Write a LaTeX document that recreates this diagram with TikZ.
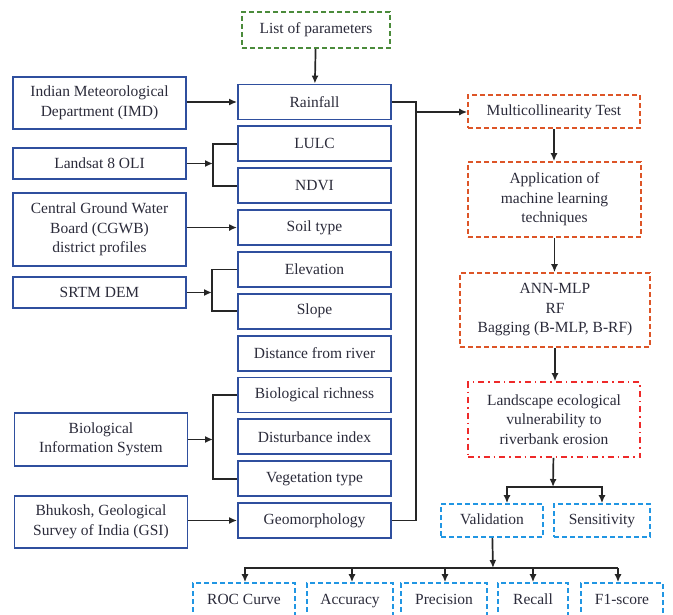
\documentclass[tikz,border=0pt]{standalone}
\usepackage{fontspec}
\setmainfont{Liberation Serif}
\usetikzlibrary{arrows.meta}
\definecolor{srcblue}{HTML}{2F4F9E}
\definecolor{listgreen}{HTML}{4B8B3B}
\definecolor{mlorange}{HTML}{DD5527}
\definecolor{outred}{HTML}{EE2A2A}
\definecolor{valcyan}{HTML}{2196E3}
\definecolor{textdark}{HTML}{2B2B3A}
\begin{document}
\begin{tikzpicture}[
    x=1pt, y=-1pt,
    font=\fontsize{15.5}{19.5}\selectfont,
    >={Latex[length=8pt,width=7pt]},
    link/.style={draw=black!85, line width=1.7pt},
    flow/.style={link, ->},
    srcbox/.style={draw=srcblue, line width=1.8pt, minimum width=173, inner sep=2pt, align=center, text=textdark},
    parbox/.style={srcbox, minimum width=153, minimum height=35},
    listbox/.style={draw=listgreen, line width=1.6pt, dash pattern=on 5pt off 3pt, inner sep=2pt, align=center, text=textdark},
    mlbox/.style={draw=mlorange, line width=1.6pt, dash pattern=on 5pt off 3pt, inner sep=2pt, align=center, text=textdark},
    outbox/.style={draw=outred, line width=1.6pt, dash pattern=on 6pt off 4pt on 1.5pt off 4pt, inner sep=2pt, align=center, text=textdark},
    valbox/.style={draw=valcyan, line width=1.6pt, dash pattern=on 5pt off 3pt, inner sep=2pt, text height=11pt, text depth=3.5pt, align=center, text=textdark}
  ]
  \useasboundingbox (0,0) rectangle (673,615);

  % Parameters
  \node[listbox, minimum width=148, minimum height=36] (list) at (316,30) {List of parameters};
  \foreach \i/\p/\txt in {0/rain/Rainfall, 1/lulc/LULC, 2/ndvi/NDVI, 3/soil/Soil type,
      4/elev/Elevation, 5/slope/Slope, 6/river/Distance from river, 7/bio/Biological richness,
      8/dist/Disturbance index, 9/veg/Vegetation type, 10/geo/Geomorphology}
    \node[parbox] (\p) at (314.5,102+\i*41.85) {\txt};

  % Data sources
  \node[srcbox, minimum height=52] (imd) at (99.5,103) {Indian Meteorological\\Department (IMD)};
  \node[srcbox, minimum height=31] (landsat) at (99.5,163.5) {Landsat 8 OLI};
  \node[srcbox, minimum height=73] (cgwb) at (99.5,229.5) {Central Ground Water\\Board (CGWB)\\district profiles};
  \node[srcbox, minimum height=31] (srtm) at (99.5,292.5) {SRTM DEM};
  \node[srcbox, minimum height=53] (bis) at (101,439.5) {Biological\\Information System};
  \node[srcbox, minimum height=52] (gsi) at (101,522) {Bhukosh, Geological\\Survey of India (GSI)};

  % Modelling steps
  \node[mlbox, minimum width=172, minimum height=33] (multi) at (554,111.5) {Multicollinearity Test};
  \node[mlbox, minimum width=173, minimum height=75] (apply) at (554.5,199.5) {Application of\\machine learning\\techniques};
  \node[mlbox, minimum width=190, minimum height=74] (models) at (555,310) {ANN-MLP\\RF\\Bagging (B-MLP, B-RF)};
  \node[outbox, minimum width=172, minimum height=75] (vuln) at (554,419.5) {Landscape ecological\\vulnerability to\\riverbank erosion};
  \node[valbox, minimum width=102, minimum height=33] (valid) at (492,520.5) {Validation};
  \node[valbox, minimum width=96, minimum height=33] (sens) at (602,520.5) {Sensitivity};

  % Metrics
  \foreach \m/\x/\w/\txt in {roc/244/102/ROC Curve, acc/350/86/Accuracy, prec/444/86/Precision,
      rec/533/70/Recall, f1/622/82/F1-score}
    \node[valbox, minimum width=\w, minimum height=36] (\m) at (\x,601) {\txt};

  % Sources to parameters
  \coordinate (jland) at (213,163.5);
  \coordinate (jsrtm) at (212,292.5);
  \coordinate (jbis) at (213,439.5);
  \draw[flow] (list) -- (rain);
  \draw[flow] (rain.west -| imd.east) -- (rain.west);
  \draw[link] (lulc.west) -| (jland) |- (ndvi.west);
  \draw[flow] (landsat) -- (jland);
  \draw[flow] (soil.west -| cgwb.east) -- (soil.west);
  \draw[link] (elev.west) -| (jsrtm) |- (slope.west);
  \draw[flow] (srtm) -- (jsrtm);
  \draw[link] (bio.west) -| (jbis) |- (veg.west);
  \draw[flow] (bis) -- (jbis);
  \draw[flow] (geo.west -| gsi.east) -- (geo.west);

  % Parameters to the models
  \coordinate (bus) at (416,112);
  \draw[link] (rain.east) -| (bus) |- (geo.east);
  \draw[flow] (bus) -- (bus -| multi.west);
  \draw[flow] (multi) -- (multi |- apply.north);
  \draw[flow] (apply) -- (apply |- models.north);
  \draw[flow] (models) -- (models |- vuln.north);

  % Validation and sensitivity
  \coordinate (jval) at (553,487);
  \draw[flow] (vuln) -- (jval);
  \draw[flow] (jval) -| ([xshift=15pt]valid.north);
  \draw[flow] (jval) -| (sens.north);
  \coordinate (jmet) at (493,568);
  \draw[flow] (valid) -- (jmet);
  \draw[link] (roc.north |- jmet) -- ([xshift=-4pt]f1.north |- jmet);
  \foreach \m/\dx in {roc/1, acc/2, prec/1, rec/0, f1/-4}
    \draw[flow] ([xshift=\dx pt]\m.north |- jmet) -- ([xshift=\dx pt]\m.north);
\end{tikzpicture}
\end{document}
